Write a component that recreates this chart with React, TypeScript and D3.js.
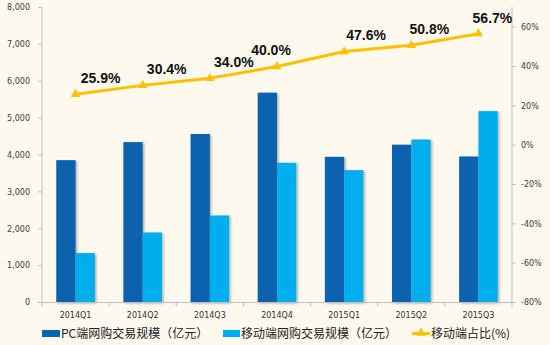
import React from "react";
import * as d3 from "d3";

const categories = ["2014Q1", "2014Q2", "2014Q3", "2014Q4", "2015Q1", "2015Q2", "2015Q3"];
const pcValues = [3860, 4350, 4570, 5690, 3950, 4280, 3960];
const mobileValues = [1340, 1900, 2360, 3790, 3590, 4420, 5190];
const mobileShare = [25.9, 30.4, 34.0, 40.0, 47.6, 50.8, 56.7];
const leftTicks = [0, 1000, 2000, 3000, 4000, 5000, 6000, 7000, 8000];
const rightTicks = [-80, -60, -40, -20, 0, 20, 40, 60];
const labelDx = [25, 24, 24, -6, 22, 18, 14];
const legendLabels = ["PC端网购交易规模（亿元）", "移动端网购交易规模（亿元）", "移动端占比(%)"];

const W = 550, H = 345;
const left = 42, right = 512, top = 7.5, bottom = 302.5;
const C_DARK = "#0862AF", C_LIGHT = "#03AEEE", C_LINE = "#FFC000", C_AXIS = "#BFBFBF";

export default function App() {
  const x = d3.scaleBand<string>().domain(categories).range([left, right]).paddingInner(0).paddingOuter(0);
  const y = d3.scaleLinear().domain([0, 8000]).range([bottom, top]);
  const y2 = d3.scaleLinear().domain([-80, 70]).range([bottom, top]);
  const bw = 19.3;
  const fmt = d3.format(",");
  const line = d3.line<number>().x((_, i) => x(categories[i])! + x.bandwidth() / 2).y(d => y2(d));
  const tri = d3.symbol().type(d3.symbolTriangle).size(38)()!;

  return (
    <svg width={W} height={H} style={{ position: "absolute", left: 0, top: 0, background: "#FDF9EE" }}>
      <defs>
        <filter id="sh" x="-20%" y="-20%" width="160%" height="140%">
          <feDropShadow dx="1.5" dy="1" stdDeviation="0.8" floodColor="#000" floodOpacity="0.3" />
        </filter>
      </defs>
      <rect x={0} y={0} width={W} height={H} fill="#FDF9EE" />
      {categories.map((c, i) => {
        const cx = x(c)! + x.bandwidth() / 2;
        return (
          <g key={c} filter="url(#sh)">
            <rect x={cx - bw} y={y(pcValues[i])} width={bw} height={y(0) - y(pcValues[i])} fill={C_DARK} />
            <rect x={cx} y={y(mobileValues[i])} width={bw} height={y(0) - y(mobileValues[i])} fill={C_LIGHT} />
          </g>
        );
      })}
      <line x1={left} x2={left} y1={top} y2={bottom} stroke={C_AXIS} strokeWidth={1} />
      {leftTicks.map(t => (
        <g key={t}>
          <line x1={left - 4} x2={left} y1={y(t)} y2={y(t)} stroke={C_AXIS} />
          <text x={30} y={y(t)} dy="0.35em" textAnchor="end" fontFamily="DejaVu Sans" fontSize={8} fill="#404040">{fmt(t)}</text>
        </g>
      ))}
      <line x1={right} x2={right} y1={top} y2={bottom} stroke={C_AXIS} strokeWidth={1} />
      {rightTicks.map(t => (
        <g key={t}>
          <line x1={right} x2={right + 4} y1={y2(t)} y2={y2(t)} stroke={C_AXIS} />
          <text x={521} y={y2(t)} dy="0.35em" textAnchor="start" fontFamily="DejaVu Sans" fontSize={8} fill="#404040">{t}%</text>
        </g>
      ))}
      <line x1={left} x2={right} y1={bottom} y2={bottom} stroke={C_AXIS} />
      {categories.map((c, i) => (
        <g key={c}>
          <line x1={x(c)!} x2={x(c)!} y1={bottom} y2={bottom + 4} stroke={C_AXIS} />
          {i === categories.length - 1 && <line x1={right} x2={right} y1={bottom} y2={bottom + 4} stroke={C_AXIS} />}
          <text x={x(c)! + x.bandwidth() / 2} y={315} dy="0.35em" textAnchor="middle" fontFamily="DejaVu Sans" fontSize={8} fill="#333">{c}</text>
        </g>
      ))}
      <path d={line(mobileShare)!} fill="none" stroke={C_LINE} strokeWidth={3} />
      {mobileShare.map((v, i) => {
        const px = x(categories[i])! + x.bandwidth() / 2;
        const py = y2(v);
        return (
          <g key={i}>
            <path d={tri} transform={`translate(${px},${py})`} fill={C_LINE} />
            <text x={px + labelDx[i]} y={py - 16} dy="0.35em" textAnchor="middle" fontFamily="Liberation Sans, Arial, sans-serif" fontWeight="bold" fontSize={14} fill="#111">{v.toFixed(1)}%</text>
          </g>
        );
      })}
      <g fontFamily="'Noto Sans CJK SC', sans-serif" fontSize={12} fill="#222">
        <rect x={42} y={330} width={18} height={7} fill={C_DARK} />
        <text x={61} y={334} dy="0.35em">{legendLabels[0]}</text>
        <rect x={223} y={330} width={17} height={7} fill={C_LIGHT} />
        <text x={241} y={334} dy="0.35em">{legendLabels[1]}</text>
        <line x1={412} x2={430} y1={333.5} y2={333.5} stroke={C_LINE} strokeWidth={3} />
        <path d={tri} transform="translate(421,333)" fill={C_LINE} />
        <text x={431} y={334} dy="0.35em">{legendLabels[2]}</text>
      </g>
    </svg>
  );
}
